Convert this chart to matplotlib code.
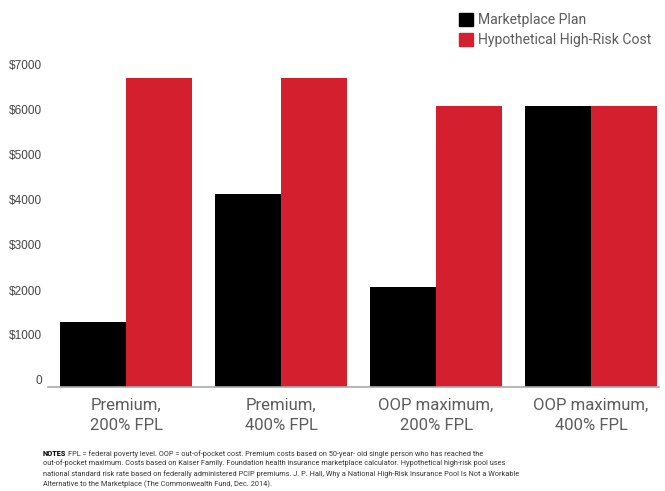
"""Marketplace plan costs vs. a hypothetical high-risk pool, grouped bars."""

import matplotlib.pyplot as plt
import matplotlib.patches as mpatches
from matplotlib.transforms import ScaledTranslation
import numpy as np

CATEGORIES = ["Premium,\n200% FPL", "Premium,\n400% FPL",
              "OOP maximum,\n200% FPL", "OOP maximum,\n400% FPL"]
MARKETPLACE = [1440, 4290, 2230, 6250]
HIGH_RISK = [6870, 6870, 6250, 6250]
YTICKS = [0, 1000, 2000, 3000, 4000, 5000, 6000, 7000]
YTICK_LABELS = ["0", "$1000", "$2000", "$3000", "$4000", "$5000",
                "$6000", "$7000"]

BLACK = "#000000"
RED = "#d4202e"
FONT = "Roboto"
TEXT_GREY = "#5c5c5c"
NOTE_FONT = "Roboto"
NOTE_SIZE = 5.3

NOTES_HEAD = "NOTES"
NOTES_FIRST = ("FPL = federal poverty level. OOP = out-of-pocket cost. Premium "
               "costs based on 50-year- old single person who has reached the")
NOTES_REST = ("out-of-pocket maximum. Costs based on Kaiser Family. Foundation "
              "health insurance marketplace calculator. Hypothetical high-risk pool uses\n"
              "national standard risk rate based on federally administered PCIP "
              "premiums. J. P. Hall, Why a National High-Risk Insurance Pool Is Not a Workable\n"
              "Alternative to the Marketplace (The Commonwealth Fund, Dec. 2014).")


def main() -> None:
    W, H = 665, 491
    fig = plt.figure(figsize=(W / 100, H / 100), dpi=100)
    # axes box in pixel terms: x 48..659, y 72..387 (from top)
    ax = fig.add_axes([48 / W, 1 - 387 / H, (659 - 48) / W, (387 - 72) / H])

    x = np.arange(len(CATEGORIES))
    w = 66 / 155
    ax.bar(x - w / 2, MARKETPLACE, w, color=BLACK)
    ax.bar(x + w / 2, HIGH_RISK, w, color=RED)

    ax.set_xlim((48 - 126) / 155, (659 - 126) / 155)
    ax.set_ylim(0, 7000)

    ax.set_xticks(x)
    ax.set_xticklabels(CATEGORIES, fontsize=12, color=TEXT_GREY,
                       family=FONT, linespacing=1.42)
    ax.set_yticks(YTICKS)
    ax.set_yticklabels(YTICK_LABELS, fontsize=8.5, color="#444444",
                       family="Liberation Sans")
    ax.tick_params(axis="both", length=0)
    ax.tick_params(axis="y", pad=4.5)
    ax.tick_params(axis="x", pad=8)
    # y labels sit a little above their values
    shift = ScaledTranslation(0, 0.07, fig.dpi_scale_trans)
    for lab in ax.get_yticklabels():
        lab.set_transform(lab.get_transform() + shift)

    for s in ["top", "right", "left"]:
        ax.spines[s].set_visible(False)
    ax.spines["bottom"].set_color("#aaaaaa")
    ax.spines["bottom"].set_linewidth(1.2)

    handles = [mpatches.Patch(color=BLACK, label="Marketplace Plan"),
               mpatches.Patch(color=RED, label="Hypothetical High-Risk Cost")]
    fig.legend(handles=handles, loc="upper left",
               bbox_to_anchor=(459 / W, 1 - 13 / H), frameon=False,
               handlelength=1.0, handleheight=1.0, handletextpad=0.35,
               labelspacing=0.45, borderaxespad=0, borderpad=0,
               prop={"family": FONT, "size": 10.1},
               labelcolor=TEXT_GREY)

    # notes block: bold lead-in, first line attached to it, then the rest
    head = fig.text(43 / W, 1 - 454 / H, NOTES_HEAD, fontsize=NOTE_SIZE,
                    fontweight="black", color="#111111", va="center",
                    family=NOTE_FONT)
    ax.annotate(NOTES_FIRST, xy=(1, 0.5), xycoords=head,
                xytext=(1.5, 0), textcoords="offset points",
                fontsize=NOTE_SIZE, color="#333333", va="center",
                family=NOTE_FONT, annotation_clip=False)
    fig.text(43 / W, 1 - 459.5 / H, NOTES_REST, fontsize=NOTE_SIZE,
             color="#333333", va="top", linespacing=1.45, family=NOTE_FONT)

    fig.savefig("out.png", dpi=100)


if __name__ == "__main__":
    main()
